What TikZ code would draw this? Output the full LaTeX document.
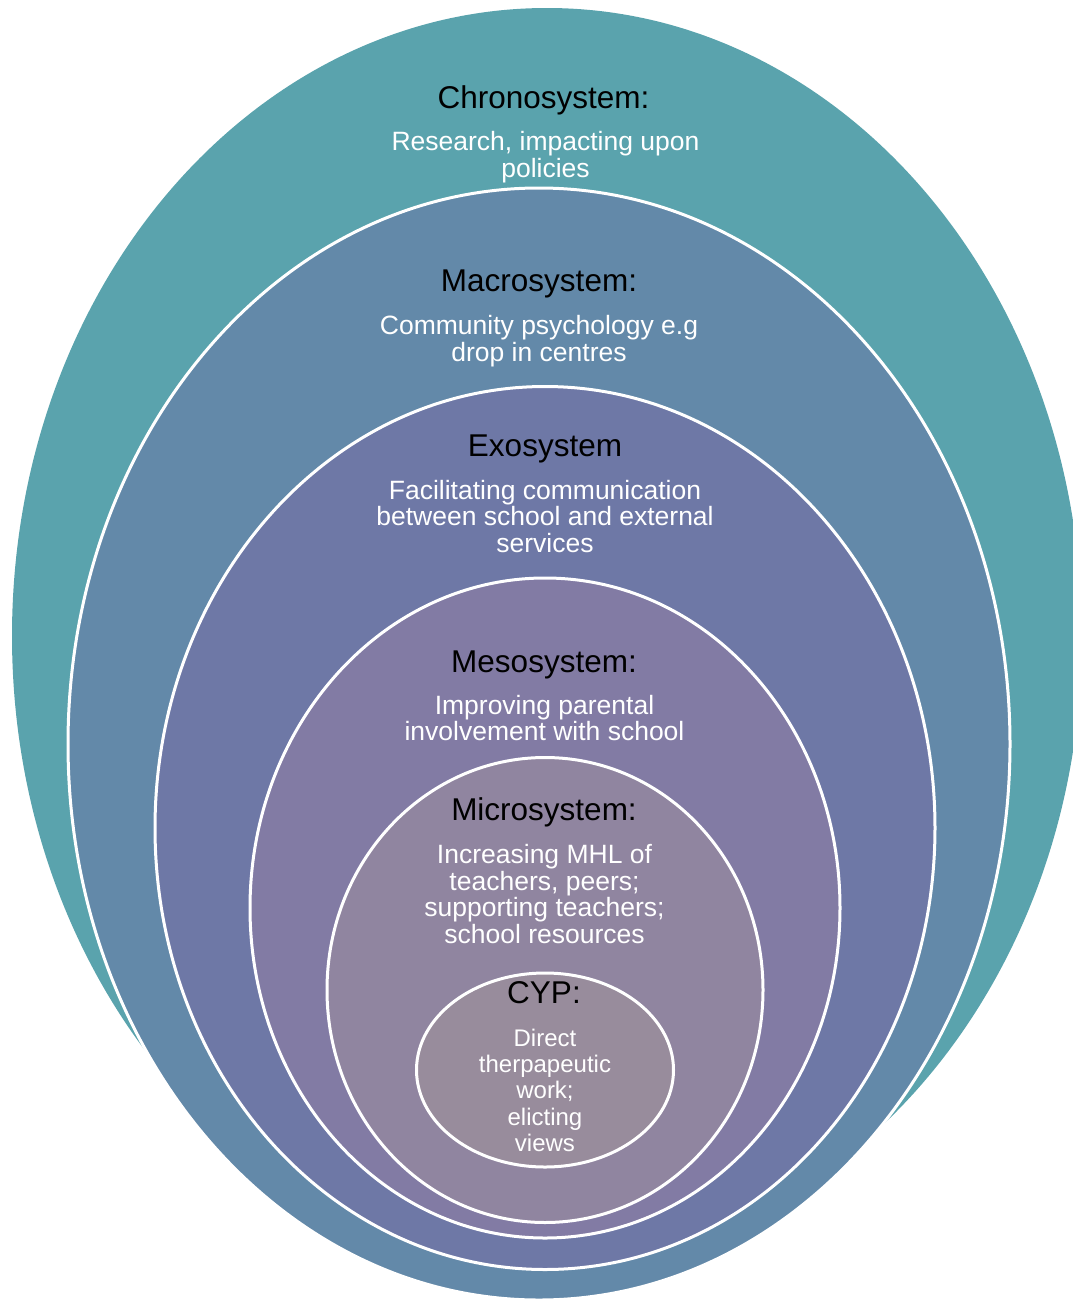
\documentclass[tikz,border=0pt]{standalone}
\usepackage{fontspec}
\setmainfont{Liberation Sans}
\usetikzlibrary{shapes.geometric}

\definecolor{chronoC}{HTML}{5AA3AD}
\definecolor{macroC}{HTML}{6389A9}
\definecolor{exoC}{HTML}{6E78A6}
\definecolor{mesoC}{HTML}{827BA4}
\definecolor{microC}{HTML}{9085A0}
\definecolor{cypC}{HTML}{988C9C}

\tikzset{
  layer/.style={ellipse, inner sep=0pt, outer sep=0pt, draw=white, line width=3pt},
  titletext/.style={anchor=base, text=black, inner sep=0pt,
    font={\fontsize{31.5}{36}\selectfont}},
  % multi-line labels are placed by the baseline of their last line
  bodytext/.style={anchor=base, text=white, inner sep=0pt, align=center,
    font={\fontsize{26.5}{26.5}\selectfont}},
  cyptext/.style={bodytext, font={\fontsize{24}{26.4}\selectfont}}
}

\begin{document}
\begin{tikzpicture}[x=1pt, y=-1pt]
  \useasboundingbox (0,0) rectangle (1072,1301);

  % nested system ellipses, outermost first
  \node[ellipse, inner sep=0pt, fill=chronoC, minimum width=1070pt, minimum height=1256pt] (chrono) at (547,636) {};
  \node[layer, fill=macroC, minimum width=942pt, minimum height=1112pt] (macro) at (539,744) {};
  \node[layer, fill=exoC, minimum width=780pt, minimum height=883pt] (exo) at (545,828) {};
  \node[layer, fill=mesoC, minimum width=590pt, minimum height=660pt] (meso) at (545,908) {};
  \node[layer, fill=microC, minimum width=436pt, minimum height=465pt] (micro) at (545,990) {};
  \node[layer, fill=cypC, minimum width=257pt, minimum height=194pt] (cyp) at (545,1070) {};

  % labels
  \node[titletext] (chronoT) at (543.5,108) {Chronosystem:};
  \node[bodytext]  (chronoB) at (545.5,177) {Research, impacting upon\\policies};

  \node[titletext] (macroT) at (539,291.7) {Macrosystem:};
  \node[bodytext]  (macroB) at (539,361) {Community psychology e.g\\drop in centres};

  \node[titletext] (exoT) at (545,456.7) {Exosystem};
  \node[bodytext]  (exoB) at (545,552) {Facilitating communication\\between school and external\\services};

  \node[titletext] (mesoT) at (544,672.7) {Mesosystem:};
  \node[bodytext]  (mesoB) at (544.5,740.7) {Improving parental\\involvement with school};

  \node[titletext] (microT) at (544,820) {Microsystem:};
  \node[bodytext]  (microB) at (544.5,943.3) {Increasing MHL of\\teachers, peers;\\supporting teachers;\\school resources};

  \node[titletext] (cypT) at (544,1003) {CYP:};
  \node[cyptext]   (cypB) at (545,1151.7) {Direct\\therpapeutic\\work;\\elicting\\views};
\end{tikzpicture}
\end{document}
